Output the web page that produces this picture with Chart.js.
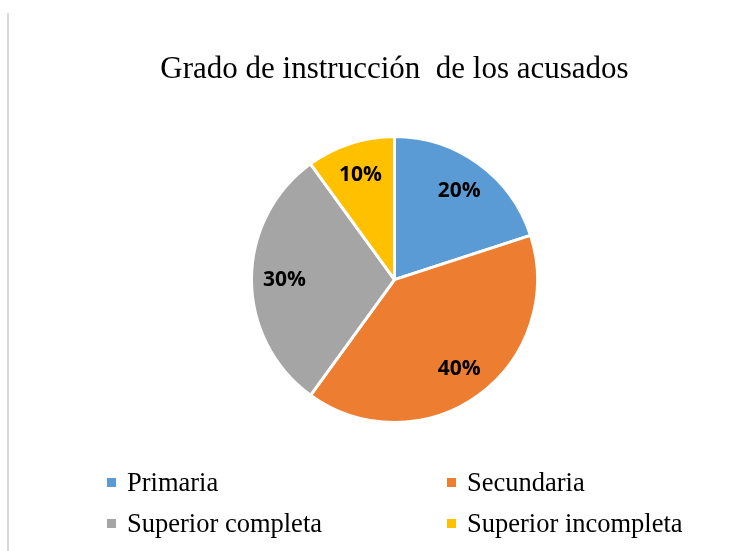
<!DOCTYPE html>
<html>
<head>
<meta charset="utf-8">
<script src="https://cdn.jsdelivr.net/npm/chart.js@4/dist/chart.umd.min.js"></script>
<style>
  body { margin: 0; background: #fff; }
  #wrap { position: relative; width: 751px; height: 551px; }
  #borde { position: absolute; left: 7px; top: 13px; bottom: 0; width: 2px; background: #d9d9d9; }
</style>
</head>
<body>
<div id="wrap">
  <div id="borde"></div>
  <canvas id="grafico" width="751" height="551"></canvas>
</div>
<script>
// datos
const categorias = ["Primaria", "Secundaria", "Superior completa", "Superior incompleta"];
const porcentajes = [20, 40, 30, 10];
const colores = ["#5B9BD5", "#ED7D31", "#A5A5A5", "#FFC000"];

// etiquetas dentro de cada sector
const etiquetas = {
    id: "etiquetas",
    afterDatasetsDraw(chart) {
        const ctx = chart.ctx;
        const meta = chart.getDatasetMeta(0);
        ctx.save();
        ctx.font = "bold 21px 'Open Sans'";
        ctx.fillStyle = "#000";
        ctx.textAlign = "center";
        ctx.textBaseline = "middle";
        meta.data.forEach((arc, i) => {
            const p = arc.getProps(["x", "y", "startAngle", "endAngle", "outerRadius"], true);
            const mid = (p.startAngle + p.endAngle) / 2;
            const r = p.outerRadius * 0.77;
            ctx.fillText(porcentajes[i] + "%", p.x + Math.cos(mid) * r, p.y + Math.sin(mid) * r);
        });
        ctx.restore();
    }
};

// leyenda en dos columnas
const leyenda = {
    id: "leyenda",
    afterDraw(chart) {
        const ctx = chart.ctx;
        const cols = [107, 447];
        const filas = [482.5, 523.5];
        ctx.save();
        ctx.font = "26.5px 'Liberation Serif'";
        ctx.textBaseline = "alphabetic";
        ctx.textAlign = "left";
        categorias.forEach((nombre, i) => {
            const x = cols[i % 2];
            const y = filas[Math.floor(i / 2)];
            ctx.fillStyle = colores[i];
            ctx.fillRect(x, y - 4.5, 9, 9);
            ctx.fillStyle = "#000";
            ctx.fillText(nombre, x + 20, y + 8);
        });
        ctx.restore();
    }
};

new Chart("grafico", {
    type: "pie",
    data: {
        labels: categorias,
        datasets: [{
            data: porcentajes,
            backgroundColor: colores,
            borderColor: "#fff",
            borderWidth: 3
        }]
    },
    options: {
        responsive: false,
        animation: false,
        radius: 143,
        layout: {
            padding: { left: 38, right: 0, top: 0, bottom: 90 }
        },
        plugins: {
            legend: { display: false },
            tooltip: { enabled: false },
            title: {
                display: true,
                text: "Grado de instrucción  de los acusados",
                color: "#000",
                font: { family: "'Liberation Serif'", size: 31, weight: "normal" },
                padding: { top: 51, bottom: 10 }
            }
        }
    },
    plugins: [etiquetas, leyenda]
});
</script>
</body>
</html>
